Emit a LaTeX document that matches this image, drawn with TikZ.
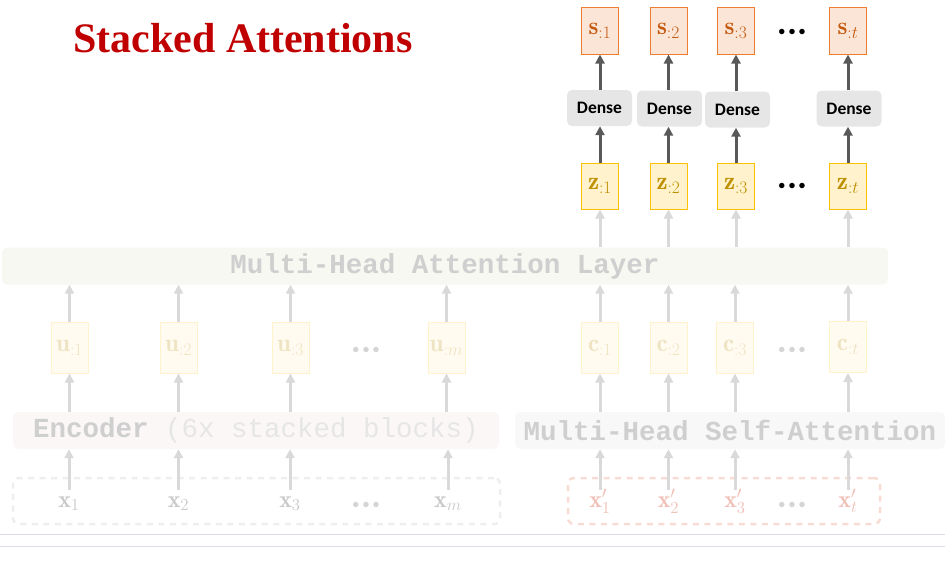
\RequirePackage{fix-cm}
\documentclass[tikz,border=0pt]{standalone}
\usepackage{fontspec}
\usepackage{amsmath}
\usepackage{xcolor}
\usepackage{tikz}
\usetikzlibrary{arrows.meta, positioning}

\newfontfamily\titlefont{Liberation Serif}
\newfontfamily\densefont{Carlito}
\newfontfamily\codefont{Liberation Mono}

\definecolor{titlered}{HTML}{C00000}
\definecolor{sline}{HTML}{ED7D31}
\definecolor{sfill}{HTML}{FBE5D6}
\definecolor{stext}{HTML}{C55A11}
\definecolor{zline}{HTML}{FFC000}
\definecolor{zfill}{HTML}{FFF2CC}
\definecolor{ztext}{HTML}{BF9000}
\definecolor{densegray}{HTML}{E7E6E6}
\definecolor{darkarrow}{HTML}{595959}
\definecolor{fadearrowc}{HTML}{D9D9D9}
\definecolor{fadeline}{HTML}{FFF2CC}
\definecolor{fadefill}{HTML}{FFFBF0}
\definecolor{fadetext}{HTML}{EEE3C2}
\definecolor{layerfill}{HTML}{F6F8F1}
\definecolor{encfill}{HTML}{FBF7F7}
\definecolor{selffill}{HTML}{F8F8F8}
\definecolor{codegray}{HTML}{CFCFCF}
\definecolor{codelight}{HTML}{E6E6E6}
\definecolor{inline}{HTML}{EEEEEE}
\definecolor{inlinep}{HTML}{F8DCD4}
\definecolor{xgray}{HTML}{C8C8C8}
\definecolor{xpink}{HTML}{F0BFB5}
\definecolor{dotgray}{HTML}{D5D5D5}
\definecolor{rulegray}{HTML}{DDDCE6}

\newcommand{\threedots}{${\bullet}\mkern4mu{\bullet}\mkern4mu{\bullet}$}

\begin{document}
\begin{tikzpicture}[
    x=1pt, y=-1pt,
    vec/.style={
        rectangle,
        draw,
        line width=1pt,
        inner sep=0pt,
        minimum width=37pt,
        minimum height=47pt,
        font=\fontsize{25}{27}\selectfont
    },
    outbox/.style={vec, draw=sline, fill=sfill, text=stext},
    zbox/.style={vec, minimum height=46pt, draw=zline, fill=zfill, text=ztext},
    fadebox/.style={vec, minimum height=51pt, draw=fadeline, fill=fadefill, text=fadetext},
    dense/.style={
        rectangle,
        rounded corners=5pt,
        fill=densegray,
        inner sep=0pt,
        minimum width=65pt,
        minimum height=36pt,
        font=\densefont\bfseries\fontsize{17.5}{20}\selectfont
    },
    layer/.style={
        rectangle,
        rounded corners=5pt,
        inner sep=0pt,
        minimum height=37pt,
        font=\codefont\bfseries\fontsize{27.5}{30}\selectfont
    },
    inputs/.style={
        rectangle,
        rounded corners=6pt,
        dashed,
        dash pattern=on 6pt off 5.5pt,
        line width=2.5pt,
        inner sep=0pt,
        minimum height=46pt
    },
    label/.style={
        inner sep=1pt,
        text height=16pt,
        text depth=6pt,
        font=\fontsize{24}{26}\selectfont
    },
    dots/.style={inner sep=0pt, font=\fontsize{14}{16}\selectfont},
    arrow/.style={-{Triangle[length=9pt, width=9pt]}, line width=3pt, draw=darkarrow},
    fadearrow/.style={arrow, draw=fadearrowc}
]
\useasboundingbox (0,0) rectangle (945,560);

% title
\node[anchor=base west, inner sep=0pt, text=titlered,
      font=\titlefont\bfseries\fontsize{42}{44}\selectfont] (title) at (73,52) {Stacked Attentions};

% outputs
\node[outbox] (s1) at (600,30.5) {$\mathbf{s}_{:1}$};
\node[outbox] (s2) at (668.5,30.5) {$\mathbf{s}_{:2}$};
\node[outbox] (s3) at (736,30.5) {$\mathbf{s}_{:3}$};
\node[dots] (sdots) at (792,32) {\threedots};
\node[outbox] (st) at (848,30.5) {$\mathbf{s}_{:t}$};

\node[dense] (dense1) at (599.5,108) {Dense};
\node[dense] (dense2) at (669.5,108.5) {Dense};
\node[dense] (dense3) at (737.5,109.5) {Dense};
\node[dense] (denset) at (849,108.5) {Dense};

\node[zbox] (z1) at (600,186) {$\mathbf{z}_{:1}$};
\node[zbox] (z2) at (668.5,186) {$\mathbf{z}_{:2}$};
\node[zbox] (z3) at (736,186) {$\mathbf{z}_{:3}$};
\node[dots] (zdots) at (792,186) {\threedots};
\node[zbox] (zt) at (848,186) {$\mathbf{z}_{:t}$};

% attention layer
\node[layer, fill=layerfill, minimum width=886pt, text=codegray] (mha) at (445,266)
    {Multi-Head Attention Layer};

% encoder side
\node[fadebox] (u1) at (69.5,347.5) {$\mathbf{u}_{:1}$};
\node[fadebox] (u2) at (178.5,347.5) {$\mathbf{u}_{:2}$};
\node[fadebox] (u3) at (290.5,347.5) {$\mathbf{u}_{:3}$};
\node[dots, text=dotgray] (udots) at (366,350) {\threedots};
\node[fadebox] (um) at (446.5,347.5) {$\mathbf{u}_{:m}$};

\node[layer, fill=encfill, minimum width=486pt] (enc) at (256,430.5)
    {\textcolor{codegray}{Encoder} \textcolor{codelight}{\mdseries(6x stacked blocks)}};

\node[inputs, draw=inline, minimum width=487pt] (xbox) at (256.5,501) {};
\node[label, text=xgray] (x1) at (69,502) {$\mathbf{x}_1$};
\node[label, text=xgray] (x2) at (178.5,502) {$\mathbf{x}_2$};
\node[label, text=xgray] (x3) at (290,502) {$\mathbf{x}_3$};
\node[dots, text=dotgray] (xdots) at (366,505) {\threedots};
\node[label, text=xgray] (xm) at (448,502) {$\mathbf{x}_m$};

% decoder side
\node[fadebox] (c1) at (600,347.5) {$\mathbf{c}_{:1}$};
\node[fadebox] (c2) at (668.5,347.5) {$\mathbf{c}_{:2}$};
\node[fadebox] (c3) at (735,347.5) {$\mathbf{c}_{:3}$};
\node[dots, text=dotgray] (cdots) at (792,350) {\threedots};
\node[fadebox] (ct) at (848,347) {$\mathbf{c}_{:t}$};

\node[layer, fill=selffill, minimum width=430pt, text=codegray] (self) at (730,430.5)
    {Multi-Head Self-Attention};

\node[inputs, draw=inlinep, minimum width=312pt] (xpbox) at (724,501) {};
\node[label, text=xpink] (xp1) at (600,502) {$\mathbf{x}'_1$};
\node[label, text=xpink] (xp2) at (668.5,502) {$\mathbf{x}'_2$};
\node[label, text=xpink] (xp3) at (735,502) {$\mathbf{x}'_3$};
\node[dots, text=dotgray] (xpdots) at (792,505) {\threedots};
\node[label, text=xpink] (xpt) at (848,502) {$\mathbf{x}'_t$};

% dark arrows
\draw[arrow] (z1) -- (dense1.south -| z1);
\draw[arrow] (z2) -- (dense2.south -| z2);
\draw[arrow] (z3) -- (dense3.south -| z3);
\draw[arrow] (zt) -- (denset.south -| zt);
\draw[arrow] (dense1.north -| s1) -- (s1);
\draw[arrow] (dense2.north -| s2) -- (s2);
\draw[arrow] (dense3.north -| s3) -- (s3);
\draw[arrow] (denset.north -| st) -- (st);

% faded arrows
\draw[fadearrow] (mha.north -| z1) -- (z1);
\draw[fadearrow] (mha.north -| z2) -- (z2);
\draw[fadearrow] (mha.north -| z3) -- (z3);
\draw[fadearrow] (mha.north -| zt) -- (zt);

\draw[fadearrow] (u1) -- (mha.south -| u1);
\draw[fadearrow] (u2) -- (mha.south -| u2);
\draw[fadearrow] (u3) -- (mha.south -| u3);
\draw[fadearrow] (um) -- (mha.south -| um);
\draw[fadearrow] (c1) -- (mha.south -| c1);
\draw[fadearrow] (c2) -- (mha.south -| c2);
\draw[fadearrow] (c3) -- (mha.south -| c3);
\draw[fadearrow] (ct) -- (mha.south -| ct);

\draw[fadearrow] (enc.north -| u1) -- (u1);
\draw[fadearrow] (enc.north -| u2) -- (u2);
\draw[fadearrow] (enc.north -| u3) -- (u3);
\draw[fadearrow] (enc.north -| um) -- (um);
\draw[fadearrow] (self.north -| c1) -- (c1);
\draw[fadearrow] (self.north -| c2) -- (c2);
\draw[fadearrow] (self.north -| c3) -- (c3);
\draw[fadearrow] (self.north -| ct) -- (ct);

\draw[fadearrow] (x1) -- (enc.south -| x1);
\draw[fadearrow] (x2) -- (enc.south -| x2);
\draw[fadearrow] (x3) -- (enc.south -| x3);
\draw[fadearrow] (xm) -- (enc.south -| xm);
\draw[fadearrow] (xp1) -- (self.south -| xp1);
\draw[fadearrow] (xp2) -- (self.south -| xp2);
\draw[fadearrow] (xp3) -- (self.south -| xp3);
\draw[fadearrow] (xpt) -- (self.south -| xpt);

% rules at the bottom
\draw[rulegray, line width=1pt] (0,534) -- (945,534);
\draw[rulegray, line width=1pt] (0,546) -- (945,546);

\end{tikzpicture}
\end{document}
